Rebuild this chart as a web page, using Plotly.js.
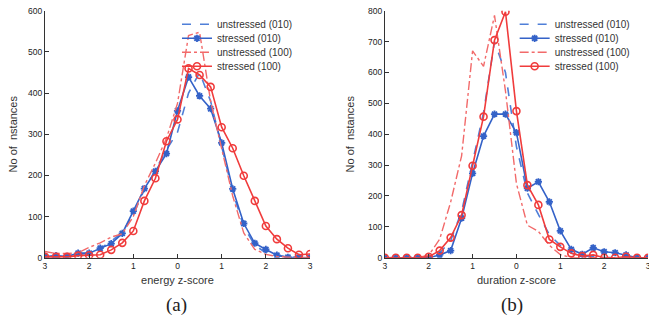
<!DOCTYPE html>
<html>
<head>
<meta charset="utf-8">
<script src="https://cdn.plot.ly/plotly-3.0.1.min.js"></script>
<style>
html,body{margin:0;padding:0;background:#fff;}
#chart{width:649px;height:327px;}
</style>
</head>
<body>
<div id="chart"></div>
<script>
// z-score bins
var zBins = [-3,-2.75,-2.5,-2.25,-2,-1.75,-1.5,-1.25,-1,-0.75,-0.5,-0.25,0,0.25,0.5,0.75,1,1.25,1.5,1.75,2,2.25,2.5,2.75,3];
var tickVals = [-3,-2,-1,0,1,2,3];
var tickText = ['3','2','1','0','1','2','3'];
var seriesNames = ['unstressed (010)','stressed (010)','unstressed (100)','stressed (100)'];

// (a) energy z-score
var energyUnstressed010 = [2,3,3,8,10,22,40,62,105,165,215,262,305,400,450,380,270,160,75,30,12,5,2,1,0];
var energyStressed010   = [3,5,3,11,11,23,34,59,113,168,210,253,357,439,393,362,279,167,83,35,20,6,1,1,0];
var energyUnstressed100 = [15,10,10,12,25,36,50,58,100,175,230,290,375,540,548,380,265,150,60,20,8,3,1,1,0];
var energyStressed100   = [2,2,2,5,6,7,19,36,65,138,193,283,336,460,444,415,317,266,199,138,77,45,23,7,9];

// (b) duration z-score
var durationUnstressed010 = [0,0,0,0,2,15,55,150,310,470,700,600,360,210,140,75,40,15,5,2,1,0,0,0,0];
var durationStressed010   = [0,0,0,0,0,9,23,128,273,394,465,465,405,225,246,181,87,27,11,32,19,16,9,0,0];
var durationUnstressed100 = [0,0,0,0,8,60,180,330,670,620,785,540,240,105,85,40,10,0,0,0,0,0,0,0,0];
var durationStressed100   = [0,0,0,0,3,23,65,138,298,457,705,797,475,235,171,59,35,14,5,9,0,0,3,0,0];

var BLUE = '#3462c8', BLUE_L = '#4f7fd8', RED = '#f03c3c', RED_L = '#f26a6a';

function mk(y, idx, xa, ya, leg) {
  var styles = [
    {line:{color:BLUE_L,width:1.6,dash:'dash'},mode:'lines'},
    {line:{color:BLUE,width:1.6},mode:'lines+markers',marker:{symbol:'asterisk-open',size:6,line:{color:BLUE,width:1.8}}},
    {line:{color:RED_L,width:1.4,dash:'dashdot'},mode:'lines'},
    {line:{color:RED,width:1.6},mode:'lines+markers',marker:{symbol:'circle-open',size:7,line:{color:RED,width:1.6}}}
  ];
  var s = styles[idx];
  var t = {x:zBins, y:y, type:'scatter', name:seriesNames[idx], xaxis:xa, yaxis:ya, legend:leg, line:s.line, mode:s.mode};
  if (s.marker) t.marker = s.marker;
  return t;
}

var data = [
  mk(energyUnstressed010,0,'x','y','legend'),
  mk(energyStressed010,1,'x','y','legend'),
  mk(energyUnstressed100,2,'x','y','legend'),
  mk(energyStressed100,3,'x','y','legend'),
  mk(durationUnstressed010,0,'x2','y2','legend2'),
  mk(durationStressed010,1,'x2','y2','legend2'),
  mk(durationUnstressed100,2,'x2','y2','legend2'),
  mk(durationStressed100,3,'x2','y2','legend2')
];

var tickFont = {family:'Liberation Sans, Arial, sans-serif', size:8.5, color:'#222'};
var titleFont = {family:'Liberation Sans, Arial, sans-serif', size:11, color:'#333'};
function xax(dom, title) {
  return {domain:dom, range:[-3,3], tickvals:tickVals, ticktext:tickText, ticks:'inside', ticklen:4, tickcolor:'#333',
    showline:true, linecolor:'#333', linewidth:1, showgrid:false, zeroline:false, mirror:false, ticklabeloverflow:'allow',
    tickfont:tickFont, title:{text:title, font:titleFont, standoff:6}, fixedrange:true};
}
function yax(dom, anchor, max, so) {
  return {domain:dom, anchor:anchor, range:[0,max], dtick:100, ticks:'inside', ticklen:4, tickcolor:'#333',
    showline:true, linecolor:'#333', linewidth:1, showgrid:false, zeroline:false, mirror:false,
    tickfont:tickFont, title:{text:'No of  nstances', font:titleFont, standoff:so}, fixedrange:true};
}
var legFont = {family:'Liberation Sans, Arial, sans-serif', size:10, color:'#333'};

var layout = {
  width:649, height:327,
  margin:{l:0, r:0, t:0, b:0},
  paper_bgcolor:'#fff', plot_bgcolor:'#fff',
  xaxis: xax([0.0693,0.4777],'energy z-score'),
  yaxis: yax([0.212,0.967],'x',600,8),
  xaxis2: Object.assign(xax([0.593,0.9985],'duration z-score'),{anchor:'y2'}),
  yaxis2: yax([0.212,0.967],'x2',800,11),
  legend:{x:0.2727, y:0.97, xanchor:'left', yanchor:'top', bgcolor:'rgba(0,0,0,0)', font:legFont, tracegroupgap:0, borderwidth:0},
  legend2:{x:0.793, y:0.97, xanchor:'left', yanchor:'top', bgcolor:'rgba(0,0,0,0)', font:legFont, tracegroupgap:0, borderwidth:0},
  showlegend:true,
  annotations:[
    {text:'(a)', xref:'paper', yref:'paper', x:0.272, y:0.067, xanchor:'center', yanchor:'middle', showarrow:false, font:{family:'Liberation Serif, Times New Roman, serif', size:19, color:'#222'}},
    {text:'(b)', xref:'paper', yref:'paper', x:0.789, y:0.067, xanchor:'center', yanchor:'middle', showarrow:false, font:{family:'Liberation Serif, Times New Roman, serif', size:19, color:'#222'}}
  ]
};

Plotly.newPlot('chart', data, layout, {staticPlot:true, displayModeBar:false}).then(function(gd){
  // tighten legend row spacing to 14px like the original MATLAB legend
  ['legend','legend2'].forEach(function(cls){
    var leg = gd.querySelector('g.' + cls);
    if (!leg) return;
    var items = leg.querySelectorAll('g.traces');
    var y0 = null;
    items.forEach(function(it, i){
      var tr = it.getAttribute('transform') || '';
      var m = tr.match(/translate\(\s*([-\d.e]+)[ ,]+([-\d.e]+)\s*\)/);
      var x = m ? parseFloat(m[1]) : 0;
      var y = m ? parseFloat(m[2]) : 0;
      if (y0 === null) y0 = y;
      it.setAttribute('transform', 'translate(' + x + ',' + (y0 + i * 14) + ')');
    });
  });
});
</script>
</body>
</html>
